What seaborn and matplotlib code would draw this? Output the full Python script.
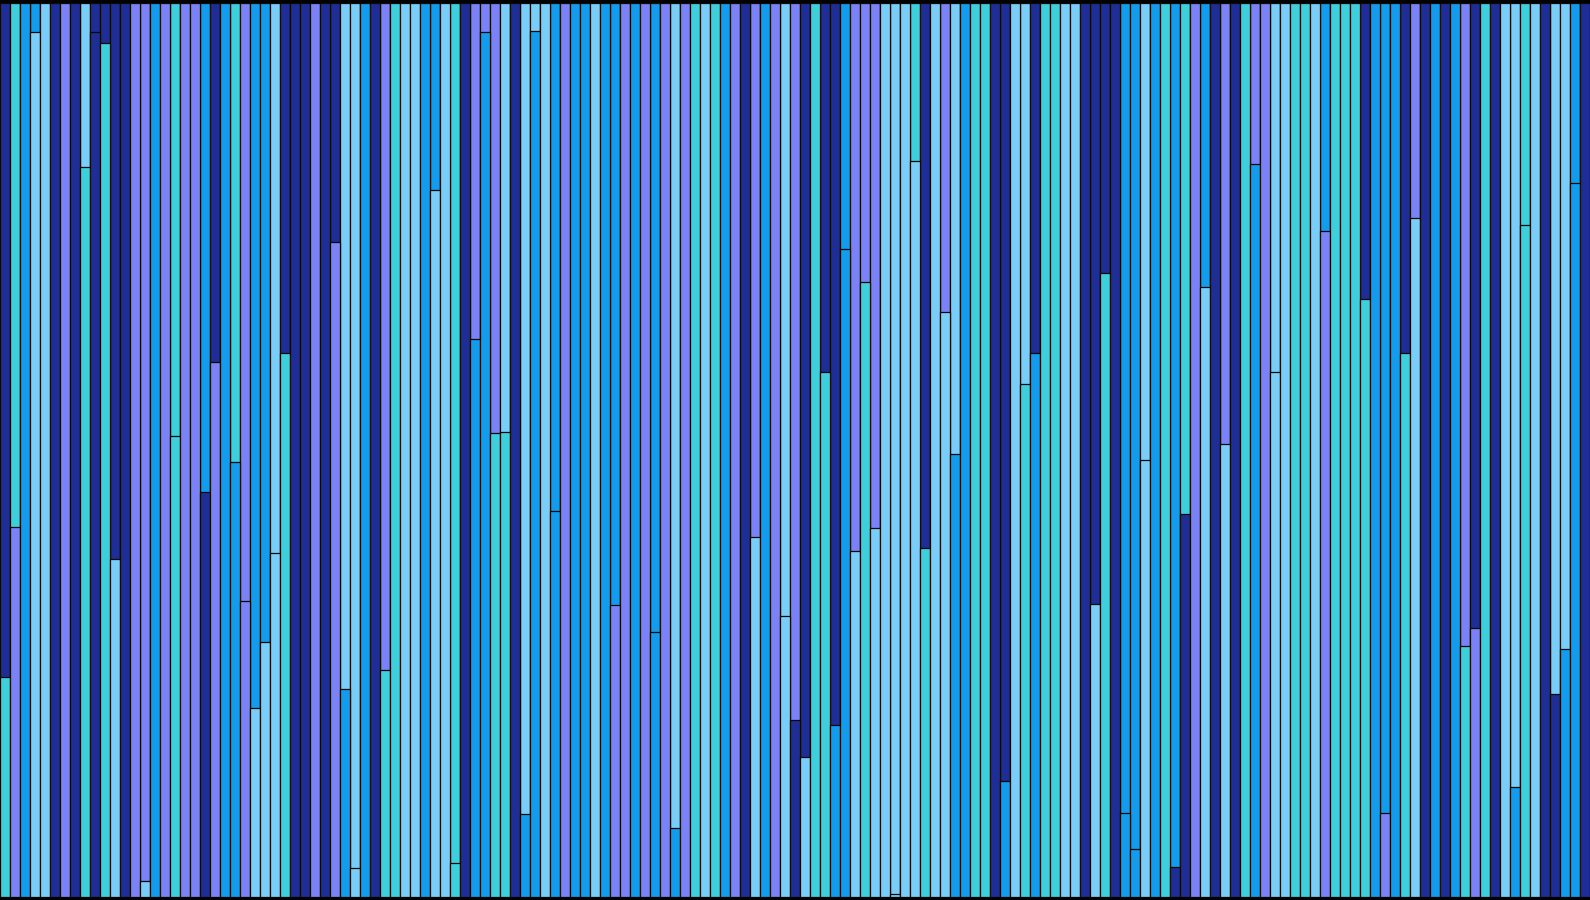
import matplotlib
matplotlib.use("Agg")
import matplotlib.pyplot as plt
import pandas as pd
import seaborn as sns

# colour group per column, ten columns per string:
# N navy, P periwinkle, B blue, L light sky, T turquoise
top_group = list("".join([
    "NTBBLNPNLN", "NNNPPBPTPP", "BNBTPBBLNN", "NPNNLLBNPT", "LLBBLTNPPP",
    "LNLLLBPBBL", "BBPBPBPLPT", "LTBPNPBPLP", "NTNNBPPPLL", "LTNLPLBTTN",
    "NLLNTTLLNN", "NNBBLBTBTP", "BNPNTPPLLT", "TLBTTTNBBB", "NPNBNBPNTN",
    "LLTLNLLBN",
]))
bottom_group = list("".join([
    "TPBLLNPNTN", "TLNPLBPTPP", "NPBBPLLLTN", "NPNPBLBNTT", "LLBLLTNBBT",
    "TNBBLBPBBL", "BPPBPBPBPT", "LTBPNLBPLN", "LTTBBLTLLL", "LLTLLBBTTN",
    "BLTBTTLLNL", "TNBBLBTNNP", "LNLNTBPLLT", "TLPTTTTBPB", "TLNBNBTPTN",
    "LBTLNNBBN",
]))
# height of the lower segment, percent of the column (100 = single colour)
lower_share = [
    24.6, 41.4, 100, 96.8, 100, 100, 100, 100, 81.6, 96.7,
    95.5, 37.8, 100, 100, 1.7, 100, 100, 51.5, 100, 100,
    45.3, 59.8, 100, 48.6, 33.1, 21.1, 28.5, 38.5, 60.8, 100,
    100, 100, 100, 73.3, 23.2, 3.2, 100, 100, 25.4, 100,
    100, 100, 100, 79.1, 100, 3.7, 100, 62.4, 96.8, 51.9,
    52.0, 100, 9.2, 96.9, 100, 43.1, 100, 100, 100, 100,
    100, 32.6, 100, 100, 100, 29.6, 100, 7.7, 100, 100,
    100, 100, 100, 100, 100, 40.2, 100, 100, 31.4, 19.8,
    15.6, 100, 58.7, 19.2, 72.5, 38.7, 68.8, 41.2, 100, 0.3,
    100, 82.3, 39.0, 100, 65.4, 49.5, 100, 100, 100, 100,
    12.9, 100, 57.4, 60.8, 100, 100, 100, 100, 100, 32.7,
    69.8, 100, 9.4, 5.3, 48.8, 100, 100, 3.3, 42.8, 100,
    68.2, 100, 50.6, 100, 100, 82.0, 100, 58.7, 100, 100,
    100, 100, 74.5, 100, 100, 100, 66.9, 100, 9.4, 100,
    60.8, 75.9, 100, 100, 100, 100, 28.0, 30.0, 100, 100,
    100, 12.3, 75.1, 100, 100, 22.7, 27.7, 79.8, 100,
]

group_colors = {
    "N": "#1f2e96",
    "P": "#7b82f8",
    "B": "#139ced",
    "L": "#78cef8",
    "T": "#3ecfdc",
}

n = len(lower_share)
cols = list(range(n))
df = pd.DataFrame({
    "col": cols,
    "total": [100.0] * n,
    "lower": lower_share,
})

fig = plt.figure(figsize=(15.9, 9), dpi=100)
fig.patch.set_facecolor("black")
ax = fig.add_axes([0, 3.5 / 900, 1, 893.5 / 900])

edge = dict(edgecolor="#0a0a0a", linewidth=0.9, saturation=1)
sns.barplot(data=df, x="col", y="total", hue="col", legend=False, width=1.0,
            palette={c: group_colors[top_group[c]] for c in cols}, ax=ax, **edge)
sns.barplot(data=df, x="col", y="lower", hue="col", legend=False, width=1.0,
            palette={c: group_colors[bottom_group[c]] for c in cols}, ax=ax, **edge)

ax.set_xlim(-0.5, n - 0.5)
ax.set_ylim(0, 100)
ax.set_axis_off()

fig.savefig("out.png", dpi=100, facecolor=fig.get_facecolor())
